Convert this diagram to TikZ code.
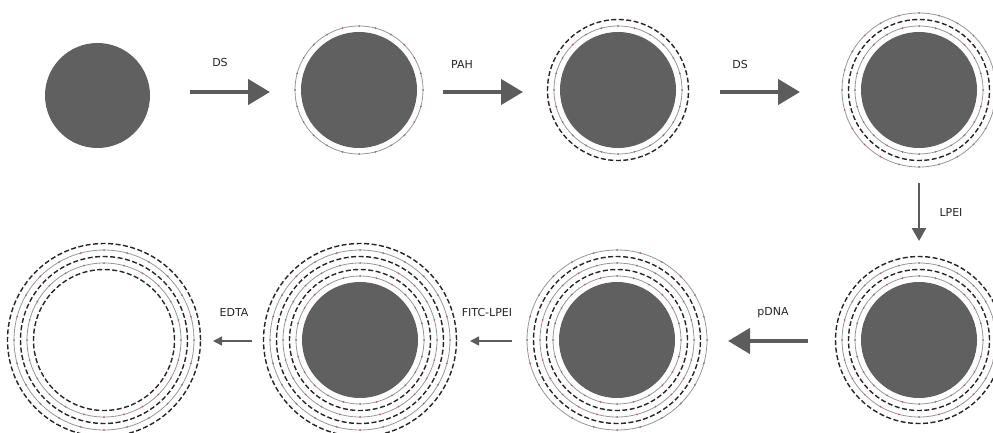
\documentclass[tikz,border=0pt]{standalone}
\usepackage{fontspec}
\setmainfont{DejaVu Sans}
\usetikzlibrary{arrows.meta}

\definecolor{coregray}{RGB}{96,96,96}
\definecolor{arrowgray}{RGB}{92,92,92}
\definecolor{layergray}{RGB}{150,150,150}
\definecolor{dotpink}{RGB}{170,100,130}

\newcommand{\neglayer}[3]{%
  \draw[negring] (#1,#2) circle (#3);
  \foreach \a in {0,15,...,345} \fill[dotpink] (#1,#2) ++(\a:#3) circle (1);
}
\newcommand{\poslayer}[3]{\draw[posring] (#1,#2) circle (#3);}

\begin{document}
\begin{tikzpicture}[x=1pt,y=1pt,
  core/.style={fill=coregray},
  negring/.style={draw=layergray,line width=0.8pt},
  posring/.style={draw=black!85,line width=1.4pt,dash pattern=on 5pt off 2.5pt},
  bigarrow/.style={draw=arrowgray,line width=4.5pt,-{Triangle[length=22pt,width=25pt]}},
  midarrow/.style={draw=arrowgray,line width=2.5pt,-{Triangle[length=13pt,width=14pt]}},
  thinarrow/.style={draw=arrowgray,line width=1.5pt,-{Triangle[length=9pt,width=9pt]}},
  lbl/.style={font=\fontsize{11}{13}\selectfont,text=black!85}]

\useasboundingbox (0,0) rectangle (993,432);

% top row
\fill[core] (97.5,336.5) circle (52.5);

\fill[core] (359,342) circle (58);
\neglayer{359}{342}{64}

\fill[core] (618,342) circle (58);
\neglayer{618}{342}{64}
\poslayer{618}{342}{70.5}

\fill[core] (919,342) circle (58);
\neglayer{919}{342}{64}
\poslayer{919}{342}{70.5}
\neglayer{919}{342}{77}

% bottom row
\fill[core] (919,92) circle (58);
\neglayer{919}{92}{64}
\poslayer{919}{92}{70.5}
\neglayer{919}{92}{77}
\poslayer{919}{92}{83.5}

\fill[core] (617,92) circle (58);
\neglayer{617}{92}{64}
\poslayer{617}{92}{70.5}
\neglayer{617}{92}{77}
\poslayer{617}{92}{83.5}
\neglayer{617}{92}{90}

\fill[core] (360,92) circle (58);
\neglayer{360}{92}{64}
\poslayer{360}{92}{70.5}
\neglayer{360}{92}{77}
\poslayer{360}{92}{83.5}
\neglayer{360}{92}{90}
\poslayer{360}{92}{96.5}

\poslayer{104}{92}{70.5}
\neglayer{104}{92}{77}
\poslayer{104}{92}{83.5}
\neglayer{104}{92}{90}
\poslayer{104}{92}{96.5}

% arrows
\coordinate (ds1a) at (190,340);
\coordinate (ds1b) at (270,340);
\coordinate (paha) at (443,340);
\coordinate (pahb) at (523,340);
\coordinate (ds2a) at (720,340);
\coordinate (ds2b) at (800,340);
\coordinate (lpeia) at (919,249);
\coordinate (lpeib) at (919,191);
\coordinate (pdnaa) at (808,91);
\coordinate (pdnab) at (728,91);
\coordinate (fitca) at (512,91);
\coordinate (fitcb) at (470,91);
\coordinate (edtaa) at (252,91);
\coordinate (edtab) at (213,91);

\draw[bigarrow] (ds1a) -- (ds1b);
\draw[bigarrow] (paha) -- (pahb);
\draw[bigarrow] (ds2a) -- (ds2b);
\draw[midarrow] (lpeia) -- (lpeib);
\draw[bigarrow] (pdnaa) -- (pdnab);
\draw[thinarrow] (fitca) -- (fitcb);
\draw[thinarrow] (edtaa) -- (edtab);

\node[lbl] (ds1) at (220,370) {DS};
\node[lbl] (pah) at (462,368) {PAH};
\node[lbl] (ds2) at (740,368) {DS};
\node[lbl] (lpei) at (951,220) {LPEI};
\node[lbl] (pdna) at (773,119) {pDNA};
\node[lbl] (fitc) at (487,120) {FITC-LPEI};
\node[lbl] (edta) at (234,120) {EDTA};
\end{tikzpicture}
\end{document}
